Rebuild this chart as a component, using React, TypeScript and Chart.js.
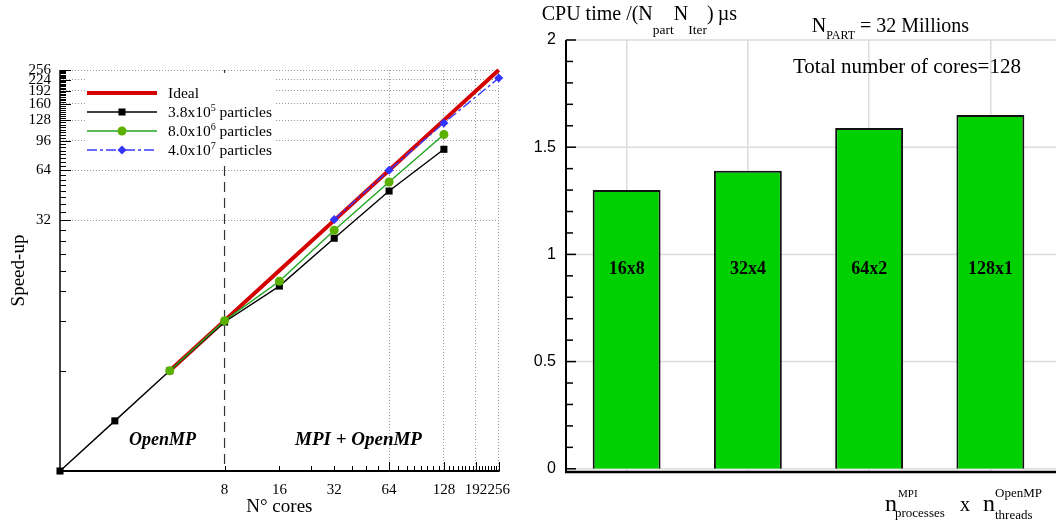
import React, { useEffect, useRef } from 'react';
import { Chart, registerables } from 'chart.js';

Chart.register(...registerables);

const SERIF = '"Liberation Serif", "Times New Roman", Times, serif';
const SANS = '"Liberation Sans", Arial, Helvetica, sans-serif';

// ---------- Left panel: speed-up (log-log) ----------
const coresIdeal = [4, 8, 16, 32, 64, 128, 256];
const speedupIdeal = [4, 8, 16, 32, 64, 128, 256];
const cores38e5 = [1, 2, 4, 8, 16, 32, 64, 128];
const speedup38e5 = [1, 2, 4, 7.85, 12.9, 25, 48, 85.5];
const cores80e6 = [4, 8, 16, 32, 64, 128];
const speedup80e6 = [4, 8, 13.8, 27.9, 54.4, 105];
const cores40e7 = [32, 64, 128, 256];
const speedup40e7 = [32.4, 64, 123, 229];

const xTickValues = [8, 16, 32, 64, 128, 192, 256];
const xGridValues = [64, 128, 192, 256];
const yTickValues = [32, 64, 96, 128, 160, 192, 224, 256];

const legendBase = ['Ideal', '3.8x10', '8.0x10', '4.0x10'];
const legendExp = ['', '5', '6', '7'];
const legendTail = ['', ' particles', ' particles', ' particles'];

// ---------- Right panel: CPU time bars ----------
const decompositions = ['16x8', '32x4', '64x2', '128x1'];
const cpuTimes = [1.3, 1.39, 1.59, 1.65];
const barYTicks = [0, 0.5, 1, 1.5, 2];

type Part = { t: string; size: number; dy?: number; style?: string; x?: number };

function drawRich(ctx: CanvasRenderingContext2D, x0: number, y0: number, parts: Part[]) {
  let x = x0;
  ctx.textBaseline = 'alphabetic';
  ctx.textAlign = 'left';
  for (const p of parts) {
    ctx.font = `${p.style ?? ''} ${p.size}px ${SERIF}`;
    const px = p.x !== undefined ? x0 + p.x : x;
    ctx.fillText(p.t, px, y0 + (p.dy ?? 0));
    x = px + ctx.measureText(p.t).width;
  }
}

function line(ctx: CanvasRenderingContext2D, x1: number, y1: number, x2: number, y2: number) {
  ctx.beginPath();
  ctx.moveTo(x1, y1);
  ctx.lineTo(x2, y2);
  ctx.stroke();
}

function marker(ctx: CanvasRenderingContext2D, style: string, x: number, y: number, r: number, fill: string) {
  ctx.fillStyle = fill;
  ctx.beginPath();
  if (style === 'rect') {
    const s = r * Math.SQRT1_2;
    ctx.rect(x - s, y - s, 2 * s, 2 * s);
  } else if (style === 'rectRot') {
    ctx.moveTo(x, y - r);
    ctx.lineTo(x + r, y);
    ctx.lineTo(x, y + r);
    ctx.lineTo(x - r, y);
    ctx.closePath();
  } else {
    ctx.arc(x, y, r, 0, Math.PI * 2);
  }
  ctx.fill();
}

const leftDecor = {
  id: 'leftDecor',
  beforeDatasetsDraw(chart: any) {
    const { ctx, chartArea: a, scales } = chart;
    const px = scales.x.getPixelForValue(8);
    ctx.save();
    ctx.strokeStyle = '#333';
    ctx.lineWidth = 1.2;
    ctx.setLineDash([10, 6]);
    line(ctx, px, a.top, px, a.bottom);
    ctx.restore();
  },
  afterDatasetsDraw(chart: any) {
    const { ctx, chartArea: a, scales } = chart;
    const xs = scales.x;
    const ys = scales.y;
    ctx.save();
    ctx.strokeStyle = '#000';
    ctx.lineWidth = 1;
    for (let v = 4; v <= 256; v += 4) {
      const py = Math.round(ys.getPixelForValue(v)) + 0.5;
      const len = v % 32 === 0 ? 11 : 6;
      line(ctx, a.left, py, a.left + len, py);
    }
    for (let v = 8; v <= 256; v += 8) {
      const px = Math.round(xs.getPixelForValue(v)) + 0.5;
      const len = v % 64 === 0 ? 9 : 5;
      line(ctx, px, a.bottom, px, a.bottom - len);
    }
    ctx.lineWidth = 1.5;
    line(ctx, a.left, a.top, a.left, a.bottom + 1);
    ctx.lineWidth = 2;
    line(ctx, a.left - 1, a.bottom, a.right + 1, a.bottom);

    // legend
    ctx.fillStyle = '#fff';
    ctx.fillRect(86, 73, 188, 92);
    const dsets = chart.data.datasets;
    dsets.forEach((ds: any, i: number) => {
      const ly = 93 + i * 19;
      ctx.save();
      ctx.strokeStyle = ds.borderColor;
      ctx.lineWidth = ds.borderWidth;
      ctx.setLineDash(ds.borderDash || []);
      line(ctx, 87, ly, 157, ly);
      ctx.restore();
      if (ds.pointRadius > 0) marker(ctx, ds.pointStyle, 122, ly, ds.pointRadius, ds.pointBackgroundColor);
      ctx.fillStyle = '#000';
      const parts: Part[] = [{ t: legendBase[i], size: 15.5 }];
      if (legendExp[i]) parts.push({ t: legendExp[i], size: 10, dy: -6 });
      if (legendTail[i]) parts.push({ t: legendTail[i], size: 15.5 });
      drawRich(ctx, 168, ly + 5, parts);
    });

    ctx.fillStyle = '#000';
    ctx.textAlign = 'center';
    ctx.textBaseline = 'alphabetic';
    ctx.font = `italic bold 18px ${SERIF}`;
    ctx.fillText('OpenMP', 162.5, 445);
    ctx.font = `italic bold 19px ${SERIF}`;
    ctx.fillText('MPI + OpenMP', 358.5, 445);
    ctx.restore();
  },
};

const rightDecor = {
  id: 'rightDecor',
  beforeDatasetsDraw(chart: any) {
    const { ctx, chartArea: a, scales, width } = chart;
    ctx.save();
    ctx.strokeStyle = '#dcdcdc';
    ctx.lineWidth = 1.5;
    barYTicks.forEach((v) => {
      const py = scales.y.getPixelForValue(v);
      line(ctx, a.left, py, width, py);
    });
    ctx.restore();
  },
  afterDatasetsDraw(chart: any) {
    const { ctx, chartArea: a, scales, width } = chart;
    const ys = scales.y;
    ctx.save();
    ctx.strokeStyle = '#000';
    ctx.lineWidth = 1.5;
    for (let k = 0; k <= 20; k++) {
      const v = k / 10;
      const py = ys.getPixelForValue(v);
      const len = k % 5 === 0 ? 10 : 7;
      line(ctx, a.left, py, a.left + len, py);
    }
    ctx.lineWidth = 2;
    line(ctx, a.left, a.top, a.left, a.bottom + 1);
    ctx.lineWidth = 2.5;
    line(ctx, a.left - 1, a.bottom, width, a.bottom);

    const meta = chart.getDatasetMeta(0);
    ctx.fillStyle = '#000';
    ctx.textAlign = 'center';
    ctx.textBaseline = 'alphabetic';
    ctx.font = `bold 18px ${SERIF}`;
    meta.data.forEach((el: any, i: number) => {
      ctx.fillText(decompositions[i], el.x, ys.getPixelForValue(0.91));
    });

    ctx.fillStyle = '#000';
    drawRich(ctx, 21.7, 20, [
      { t: 'CPU time /(N', size: 20 },
      { t: 'part', size: 13.5, dy: 14 },
      { t: 'N', size: 20 },
      { t: 'Iter', size: 13.5, dy: 14 },
      { t: ')\u2009\u00b5s', size: 20 },
    ]);
    drawRich(ctx, 291.7, 32, [
      { t: 'N', size: 20 },
      { t: 'PART', size: 12, dy: 7 },
      { t: ' = 32 Millions', size: 20 },
    ]);
    drawRich(ctx, 273, 73, [{ t: 'Total number of cores=128', size: 21 }]);
    drawRich(ctx, 365, 511, [
      { t: 'n', size: 24 },
      { t: 'MPI', size: 11, dy: -14, x: 13 },
      { t: 'processes', size: 13, dy: 6, x: 10 },
      { t: 'x', size: 20, x: 75 },
      { t: 'n', size: 24, x: 98 },
      { t: 'OpenMP', size: 13, dy: -14, x: 110 },
      { t: 'threads', size: 13, dy: 8, x: 110 },
    ]);
    ctx.restore();
  },
};

export default function App() {
  const leftRef = useRef<HTMLCanvasElement | null>(null);
  const rightRef = useRef<HTMLCanvasElement | null>(null);

  useEffect(() => {
    const toXY = (xs: number[], ys: number[]) => xs.map((x, i) => ({ x, y: ys[i] }));
    const left = new Chart(leftRef.current as HTMLCanvasElement, {
      type: 'line',
      data: {
        datasets: [
          {
            label: 'Ideal',
            data: toXY(coresIdeal, speedupIdeal),
            borderColor: '#d40000',
            backgroundColor: '#d40000',
            borderWidth: 4,
            pointRadius: 0,
            order: 4,
            clip: false,
          },
          {
            label: '3.8x10^5 particles',
            data: toXY(cores38e5, speedup38e5),
            borderColor: '#000000',
            backgroundColor: '#000000',
            borderWidth: 1.4,
            pointStyle: 'rect',
            pointRadius: 5,
            pointBorderWidth: 0,
            pointBackgroundColor: '#000000',
            order: 3,
            clip: false,
          },
          {
            label: '8.0x10^6 particles',
            data: toXY(cores80e6, speedup80e6),
            borderColor: '#1fa51f',
            backgroundColor: '#5cb000',
            borderWidth: 1.4,
            pointStyle: 'circle',
            pointRadius: 4.5,
            pointBorderWidth: 0,
            pointBackgroundColor: '#5cb000',
            order: 2,
            clip: false,
          },
          {
            label: '4.0x10^7 particles',
            data: toXY(cores40e7, speedup40e7),
            borderColor: '#3a3aff',
            backgroundColor: '#3333ff',
            borderWidth: 1.4,
            borderDash: [10, 3, 3, 3],
            pointStyle: 'rectRot',
            pointRadius: 4.5,
            pointBorderWidth: 0,
            pointBackgroundColor: '#3333ff',
            order: 1,
            clip: false,
          },
        ] as any,
      },
      options: {
        animation: false,
        responsive: false,
        events: [],
        layout: { padding: { top: 70, right: 19, left: 0, bottom: 0 } },
        plugins: { legend: { display: false }, tooltip: { enabled: false } },
        scales: {
          x: {
            type: 'logarithmic',
            min: 1,
            max: 256,
            afterBuildTicks: (s: any) => {
              s.ticks = xTickValues.map((v) => ({ value: v }));
            },
            afterFit: (s: any) => {
              s.height = 51;
            },
            ticks: {
              autoSkip: false,
              maxRotation: 0,
              callback: (v: any) => String(v),
              font: { family: SERIF, size: 15 },
              color: '#000',
              padding: 10,
            },
            grid: {
              drawTicks: false,
              color: (c: any) => (c.tick && xGridValues.includes(c.tick.value) ? '#9a9a9a' : 'rgba(0,0,0,0)'),
              lineWidth: 1,
            },
            border: { display: false, dash: [1, 2] },
            title: {
              display: true,
              text: 'N\u00b0 cores',
              font: { family: SERIF, size: 19 },
              color: '#000',
              padding: { top: 0, bottom: 4 },
            },
          },
          y: {
            type: 'logarithmic',
            min: 1,
            max: 256,
            afterBuildTicks: (s: any) => {
              s.ticks = yTickValues.map((v) => ({ value: v }));
            },
            afterFit: (s: any) => {
              s.width = 60;
            },
            ticks: {
              autoSkip: false,
              callback: (v: any) => String(v),
              font: { family: SERIF, size: 15 },
              color: '#000',
              padding: 9,
            },
            grid: { drawTicks: false, color: '#9a9a9a', lineWidth: 1 },
            border: { display: false, dash: [1, 2] },
            title: {
              display: true,
              text: 'Speed-up',
              font: { family: SERIF, size: 19 },
              color: '#000',
              padding: { top: 8, bottom: 0 },
            },
          },
        },
      } as any,
      plugins: [leftDecor],
    });

    const right = new Chart(rightRef.current as HTMLCanvasElement, {
      type: 'bar',
      data: {
        labels: decompositions,
        datasets: [
          {
            label: 'CPU time',
            data: cpuTimes,
            backgroundColor: '#00d000',
            borderColor: '#111111',
            borderWidth: 2,
            barPercentage: 0.56,
            categoryPercentage: 1,
          },
        ],
      },
      options: {
        animation: false,
        responsive: false,
        events: [],
        layout: { padding: { top: 40, right: 5, left: 0, bottom: 0 } },
        plugins: { legend: { display: false }, tooltip: { enabled: false } },
        scales: {
          x: {
            grid: { offset: false, color: '#dcdcdc', lineWidth: 1.5, drawTicks: false },
            border: { display: false },
            ticks: { display: false },
            afterFit: (s: any) => {
              s.height = 50;
            },
          },
          y: {
            min: -0.015,
            max: 2,
            afterBuildTicks: (s: any) => {
              s.ticks = barYTicks.map((v) => ({ value: v }));
            },
            afterFit: (s: any) => {
              s.width = 46;
            },
            ticks: {
              autoSkip: false,
              callback: (v: any) => String(v),
              font: { family: SANS, size: 16 },
              color: '#000',
              padding: 10,
            },
            grid: { display: false, drawTicks: false },
            border: { display: false },
          },
        },
      } as any,
      plugins: [rightDecor],
    });

    return () => {
      left.destroy();
      right.destroy();
    };
  }, []);

  return (
    <div style={{ position: 'fixed', left: 0, top: 0, width: 1056, height: 522, background: '#fff' }}>
      <canvas ref={leftRef} width={520} height={522} style={{ position: 'absolute', left: 0, top: 0, display: 'block' }} />
      <canvas ref={rightRef} width={536} height={522} style={{ position: 'absolute', left: 520, top: 0, display: 'block' }} />
    </div>
  );
}
